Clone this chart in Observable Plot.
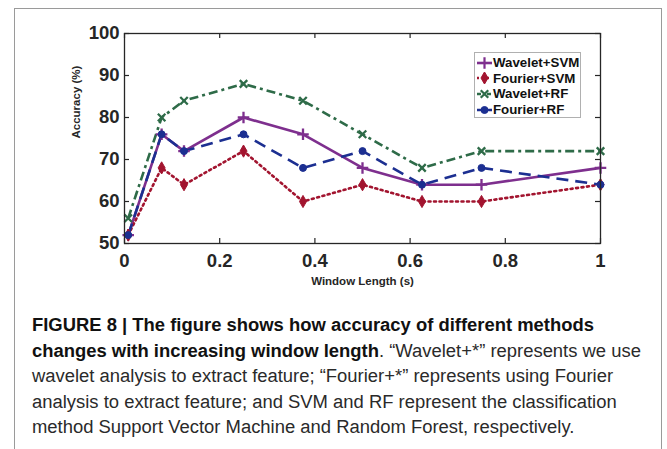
<!DOCTYPE html>
<html>
<head>
<meta charset="utf-8">
<script src="https://cdn.jsdelivr.net/npm/d3@7"></script>
<script src="https://cdn.jsdelivr.net/npm/@observablehq/plot@0.6"></script>
<style>
  html, body { margin: 0; padding: 0; background: #fff; }
  #page { position: relative; width: 667px; height: 449px; overflow: hidden; font-family: "Liberation Sans", Arial, sans-serif; }
  #frame { position: absolute; left: 14px; top: 8px; width: 648px; height: 460px; border: 1px solid #9a9a9a; box-sizing: border-box; }
  #chart { position: absolute; left: 0; top: 0; }
  #legend { position: absolute; left: 474px; top: 52px; width: 107px; height: 66px; border: 1px solid #b0b0b0; background: #fff; box-sizing: border-box; padding-top: 2px; }
  .lg { display: flex; align-items: center; height: 15.6px; font-weight: bold; font-size: 13.3px; color: #111; white-space: nowrap; }
  .lg svg { margin-left: 2px; margin-right: 1px; }
  #caption { position: absolute; left: 32px; top: 313px; font-size: 18px; color: #2a2a2a; transform-origin: 0 0; }
  #caption div { height: 25.5px; line-height: 25.5px; white-space: nowrap; }
  #caption b { color: #111; }
</style>
</head>
<body>
<div id="page">
  <div id="frame"></div>
  <div id="chart"></div>
  <div id="legend"></div>
  <div id="caption">
    <div><b>FIGURE 8 | The figure shows how accuracy of different methods</b></div>
    <div><b>changes with increasing window length</b>. “Wavelet+*” represents we use</div>
    <div>wavelet analysis to extract feature; “Fourier+*” represents using Fourier</div>
    <div>analysis to extract feature; and SVM and RF represent the classification</div>
    <div>method Support Vector Machine and Random Forest, respectively.</div>
  </div>
</div>
<script>
// ---- data ----
const windowLength = [0.0078, 0.078, 0.125, 0.25, 0.375, 0.5, 0.625, 0.75, 1];
const waveletSVM = [52, 76, 72, 80, 76, 68, 64, 64, 68];
const fourierSVM = [52, 68, 64, 72, 60, 64, 60, 60, 64];
const waveletRF  = [56, 80, 84, 88, 84, 76, 68, 72, 72];
const fourierRF  = [52, 76, 72, 76, 68, 72, 64, 68, 64];
const seriesNames = ["Wavelet+SVM", "Fourier+SVM", "Wavelet+RF", "Fourier+RF"];
const xTicks = [0, 0.2, 0.4, 0.6, 0.8, 1];
const yTicks = [50, 60, 70, 80, 90, 100];
const xTitle = "Window Length (s)";
const yTitle = "Accuracy (%)";

// ---- styles ----
const styles = {
  "Wavelet+SVM": {color: "#7E2F8E", dash: null, symbol: "plus", r: 3.8, filled: false},
  "Fourier+SVM": {color: "#A2142F", dash: "2,3.5", symbol: "diamond", r: 3.7, filled: true},
  "Wavelet+RF":  {color: "#2E6B48", dash: "9,4,3,4", symbol: "times", r: 3.5, filled: false},
  "Fourier+RF":  {color: "#1C2F91", dash: "12,7", symbol: "circle", r: 3.5, filled: true}
};
const valuesBySeries = {
  "Wavelet+SVM": waveletSVM, "Fourier+SVM": fourierSVM,
  "Wavelet+RF": waveletRF, "Fourier+RF": fourierRF
};
const drawOrder = ["Wavelet+SVM", "Fourier+SVM", "Wavelet+RF", "Fourier+RF"];

const marks = [];
for (const name of drawOrder) {
  const st = styles[name];
  const rows = windowLength.map((x, i) => ({x, y: valuesBySeries[name][i]}));
  marks.push(Plot.line(rows, {x: "x", y: "y", stroke: st.color, strokeWidth: 2.6, strokeDasharray: st.dash, strokeLinecap: st.dash === "2,3.5" ? "round" : "butt"}));
}
for (const name of drawOrder) {
  const st = styles[name];
  const rows = windowLength.map((x, i) => ({x, y: valuesBySeries[name][i]}));
  marks.push(Plot.dot(rows, {x: "x", y: "y", symbol: () => st.symbol, r: st.r,
    fill: st.filled ? st.color : "none", stroke: st.color, strokeWidth: st.filled ? 1 : 2.3}));
}

const W = 667, H = 295, mL = 124, mR = 67, mT = 33, mB = 52;
const innerW = W - mL - mR, innerH = H - mT - mB;

const chart = Plot.plot({
  width: W, height: H,
  marginLeft: mL, marginRight: mR, marginTop: mT, marginBottom: mB,
  style: {fontFamily: "Liberation Sans, Arial, sans-serif", fontWeight: "bold", color: "#262626", background: "transparent"},
  x: {domain: [0, 1], label: null},
  y: {domain: [50, 100], label: null},
  marks: [
    ...marks,
    Plot.frame({stroke: "#262626", strokeWidth: 1.3}),
    // inward ticks (bottom, top, left, right)
    Plot.tickX(xTicks, {x: d => d, stroke: "#262626", strokeWidth: 1.2, insetTop: innerH - 5}),
    Plot.tickX(xTicks, {x: d => d, stroke: "#262626", strokeWidth: 1.2, insetBottom: innerH - 5}),
    Plot.tickY(yTicks, {y: d => d, stroke: "#262626", strokeWidth: 1.2, insetRight: innerW - 5}),
    Plot.tickY(yTicks, {y: d => d, stroke: "#262626", strokeWidth: 1.2, insetLeft: innerW - 5}),
    Plot.axisX(xTicks, {anchor: "bottom", tickSize: 0, tickPadding: 10, fontSize: 18.5, fontWeight: "bold", tickFormat: d => String(d), label: null}),
    Plot.axisY(yTicks, {anchor: "left", tickSize: 0, tickPadding: 5, fontSize: 18.5, fontWeight: "bold", tickFormat: d => String(d), label: null}),
    Plot.text([xTitle], {text: d => d, frameAnchor: "bottom", dy: 41, fontSize: 11.5, fontWeight: "bold", fill: "#262626"}),
    Plot.text([yTitle], {text: d => d, frameAnchor: "left", dx: -48, rotate: -90, fontSize: 11.5, fontWeight: "bold", fill: "#262626"})
  ]
});
document.getElementById("chart").appendChild(chart);

// ---- legend ----
const legend = document.getElementById("legend");
for (const name of seriesNames) {
  const st = styles[name];
  const row = document.createElement("div");
  row.className = "lg";
  const ns = "http://www.w3.org/2000/svg";
  const svg = document.createElementNS(ns, "svg");
  svg.setAttribute("width", 15); svg.setAttribute("height", 12);
  const line = document.createElementNS(ns, "line");
  line.setAttribute("x1", 0); line.setAttribute("x2", 15); line.setAttribute("y1", 6); line.setAttribute("y2", 6);
  line.setAttribute("stroke", st.color); line.setAttribute("stroke-width", 2.6);
  if (st.dash) line.setAttribute("stroke-dasharray", name === "Fourier+SVM" ? "2,3" : name === "Wavelet+RF" ? "4,2,2,2" : "6,3");
  svg.appendChild(line);
  const sym = d3.symbol().type({plus: d3.symbolPlus, diamond: d3.symbolDiamond, times: d3.symbolTimes, circle: d3.symbolCircle}[st.symbol]).size(Math.PI * st.r * st.r);
  const p = document.createElementNS(ns, "path");
  p.setAttribute("d", sym());
  p.setAttribute("transform", "translate(7.5,6)");
  p.setAttribute("fill", st.filled ? st.color : "none");
  p.setAttribute("stroke", st.color);
  p.setAttribute("stroke-width", st.filled ? 1 : 2.2);
  svg.appendChild(p);
  row.appendChild(svg);
  const span = document.createElement("span");
  span.textContent = name;
  row.appendChild(span);
  legend.appendChild(row);
}

// ---- caption horizontal fit ----
const cap = document.getElementById("caption");
const first = cap.querySelector("div b");
const natural = first.getBoundingClientRect().width;
const s = 562 / natural;
cap.style.transform = `scaleX(${s})`;
</script>
</body>
</html>
